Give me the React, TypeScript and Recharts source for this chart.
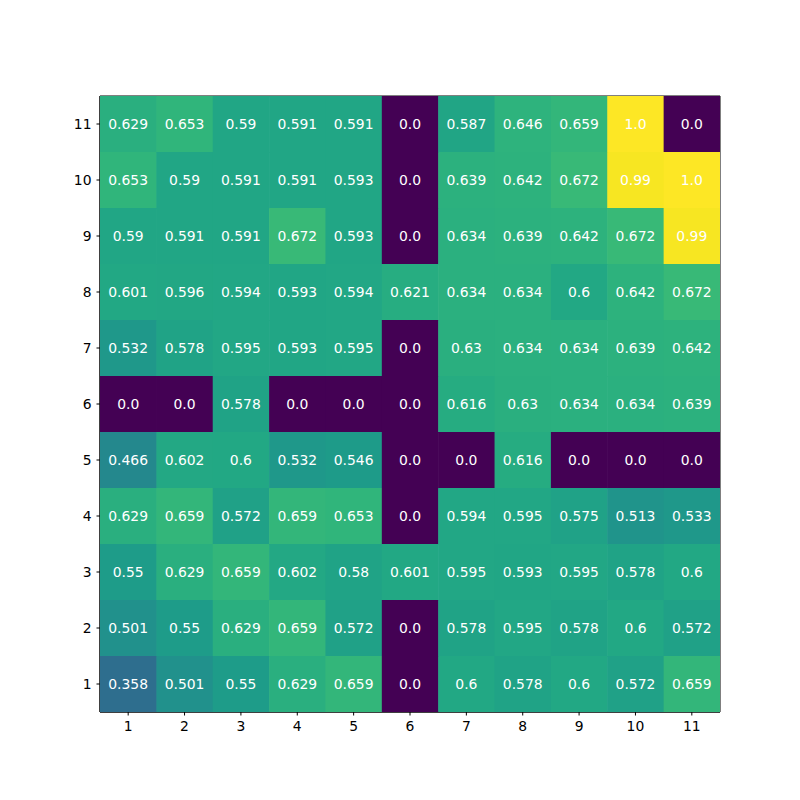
import React from "react";
import { ScatterChart, Scatter, XAxis, YAxis, ReferenceArea } from "recharts";

const xLabels = [1, 2, 3, 4, 5, 6, 7, 8, 9, 10, 11];
const yLabels = [11, 10, 9, 8, 7, 6, 5, 4, 3, 2, 1];

const row11 = [0.629, 0.653, 0.59, 0.591, 0.591, 0.0, 0.587, 0.646, 0.659, 1.0, 0.0];
const row10 = [0.653, 0.59, 0.591, 0.591, 0.593, 0.0, 0.639, 0.642, 0.672, 0.99, 1.0];
const row9 = [0.59, 0.591, 0.591, 0.672, 0.593, 0.0, 0.634, 0.639, 0.642, 0.672, 0.99];
const row8 = [0.601, 0.596, 0.594, 0.593, 0.594, 0.621, 0.634, 0.634, 0.6, 0.642, 0.672];
const row7 = [0.532, 0.578, 0.595, 0.593, 0.595, 0.0, 0.63, 0.634, 0.634, 0.639, 0.642];
const row6 = [0.0, 0.0, 0.578, 0.0, 0.0, 0.0, 0.616, 0.63, 0.634, 0.634, 0.639];
const row5 = [0.466, 0.602, 0.6, 0.532, 0.546, 0.0, 0.0, 0.616, 0.0, 0.0, 0.0];
const row4 = [0.629, 0.659, 0.572, 0.659, 0.653, 0.0, 0.594, 0.595, 0.575, 0.513, 0.533];
const row3 = [0.55, 0.629, 0.659, 0.602, 0.58, 0.601, 0.595, 0.593, 0.595, 0.578, 0.6];
const row2 = [0.501, 0.55, 0.629, 0.659, 0.572, 0.0, 0.578, 0.595, 0.578, 0.6, 0.572];
const row1 = [0.358, 0.501, 0.55, 0.629, 0.659, 0.0, 0.6, 0.578, 0.6, 0.572, 0.659];

const rows = [row11, row10, row9, row8, row7, row6, row5, row4, row3, row2, row1];

const viridis = [
  "#440154", "#471365", "#482475", "#463480", "#414487", "#3b528b", "#355f8d",
  "#2f6c8e", "#2a788e", "#25848e", "#21918c", "#1e9c89", "#22a884", "#2fb47c",
  "#44bf70", "#5ec962", "#7ad151", "#9bd93c", "#bddf26", "#dfe318", "#fde725",
];

function hexToRgb(h: string) {
  return [parseInt(h.slice(1, 3), 16), parseInt(h.slice(3, 5), 16), parseInt(h.slice(5, 7), 16)];
}

function colorFor(v: number) {
  const t = Math.max(0, Math.min(1, v)) * (viridis.length - 1);
  const i = Math.min(viridis.length - 2, Math.floor(t));
  const f = t - i;
  const a = hexToRgb(viridis[i]);
  const b = hexToRgb(viridis[i + 1]);
  const c = a.map((av, k) => Math.round(av + (b[k] - av) * f));
  return `rgb(${c[0]},${c[1]},${c[2]})`;
}

const data = rows.flatMap((r, ri) =>
  r.map((v, ci) => ({ x: xLabels[ci], y: yLabels[ri], v }))
);

const W = 792;
const H = 792;
const margin = { top: 88, right: 80, bottom: 58, left: 62 };
const Y_AXIS_W = 30;
const X_AXIS_H = 30;
const PLOT_W = W - margin.left - margin.right - Y_AXIS_W;
const PLOT_H = H - margin.top - margin.bottom - X_AXIS_H;
const CELL_W = PLOT_W / xLabels.length;
const CELL_H = PLOT_H / yLabels.length;

const CellShape = (props: any) => {
  const { cx, cy, payload } = props;
  if (cx == null || cy == null) return null;
  return (
    <g>
      <rect
        x={cx - CELL_W / 2}
        y={cy - CELL_H / 2}
        width={CELL_W + 0.6}
        height={CELL_H + 0.6}
        fill={colorFor(payload.v)}
      />
      <text
        x={cx}
        y={cy}
        textAnchor="middle"
        dominantBaseline="central"
        fill="#ffffff"
        fontSize={13.9}
        fontFamily="DejaVu Sans"
      >
        {String(payload.v === 0 ? "0.0" : payload.v === 1 ? "1.0" : payload.v)}
      </text>
    </g>
  );
};

const tickStyle = { fill: "#000", fontSize: 13.9, fontFamily: "DejaVu Sans" };

export default function App() {
  return (
    <ScatterChart width={W} height={H} margin={margin}>
      <XAxis
        type="number"
        dataKey="x"
        domain={[0.5, 11.5]}
        ticks={xLabels}
        interval={0}
        allowDataOverflow
        height={X_AXIS_H}
        tickSize={3.5}
        tickMargin={6}
        tickLine={{ stroke: "#000" }}
        axisLine={{ stroke: "#000" }}
        tick={tickStyle}
      />
      <YAxis
        type="number"
        dataKey="y"
        domain={[0.5, 11.5]}
        ticks={[...yLabels].reverse()}
        interval={0}
        allowDataOverflow
        width={Y_AXIS_W}
        tickSize={3.5}
        tickMargin={5}
        tickLine={{ stroke: "#000" }}
        axisLine={{ stroke: "#000" }}
        tick={tickStyle}
      />
      <Scatter data={data} shape={<CellShape />} isAnimationActive={false} />
      <ReferenceArea
        x1={0.5}
        x2={11.5}
        y1={0.5}
        y2={11.5}
        fill="none"
        fillOpacity={0}
        stroke="#000"
        strokeWidth={1}
        ifOverflow="visible"
      />
    </ScatterChart>
  );
}
